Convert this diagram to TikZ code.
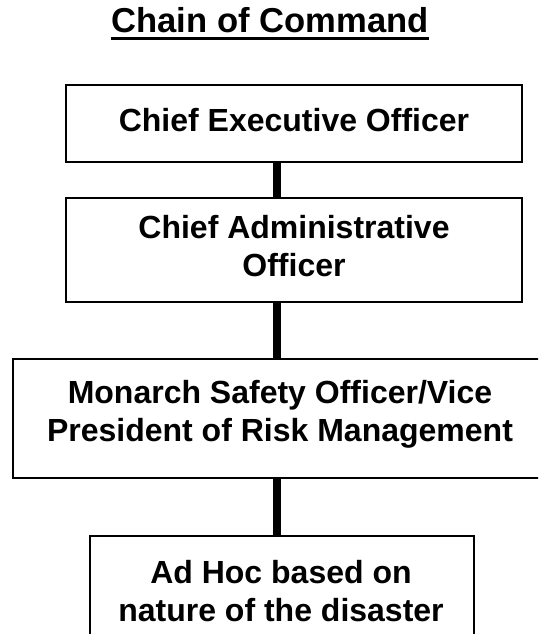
\documentclass[tikz,border=0pt]{standalone}
\usepackage{fontspec}
\setmainfont{Liberation Sans}
\begin{document}
\begin{tikzpicture}[x=1pt,y=-1pt,
  box/.style={draw, line width=1.6pt, inner sep=0pt, anchor=north west},
  lbl/.style={font=\bfseries\fontsize{32}{38}\selectfont, align=center, inner sep=0pt, anchor=north},
  link/.style={line width=8pt},
  ttl/.style={font=\bfseries\fontsize{34.6}{40}\selectfont, inner sep=0pt, anchor=base}]
\useasboundingbox (0,0) rectangle (538,634);
\clip (0,0) rectangle (538,634);
% title
\node[ttl] (title) at (270,33) {Chain of Command};
\draw[line width=3pt] ([yshift=-6pt]title.base west) -- ([yshift=-6pt]title.base east);
% boxes
\node[box, minimum width=456, minimum height=77] (b1) at (65,84) {};
\node[box, minimum width=456, minimum height=104] (b2) at (65,197) {};
\node[box, minimum width=535, minimum height=119] (b3) at (12,358) {};
\node[box, minimum width=384, minimum height=115] (b4) at (89,535) {};
% texts
\node[lbl] (t1) at (294,108) {Chief Executive Officer};
\node[lbl] (t2) at (294,215) {Chief Administrative\\Officer};
\node[lbl] (t3) at (280,380) {Monarch Safety Officer/Vice\\President of Risk Management};
\node[lbl] (t4) at (281,560) {Ad Hoc based on\\nature of the disaster};
% connectors
\coordinate (spine) at (277,0);
\draw[link] (b1.south -| spine) -- (b2.north -| spine);
\draw[link] (b2.south -| spine) -- (b3.north -| spine);
\draw[link] (b3.south -| spine) -- (b4.north -| spine);
\end{tikzpicture}
\end{document}
